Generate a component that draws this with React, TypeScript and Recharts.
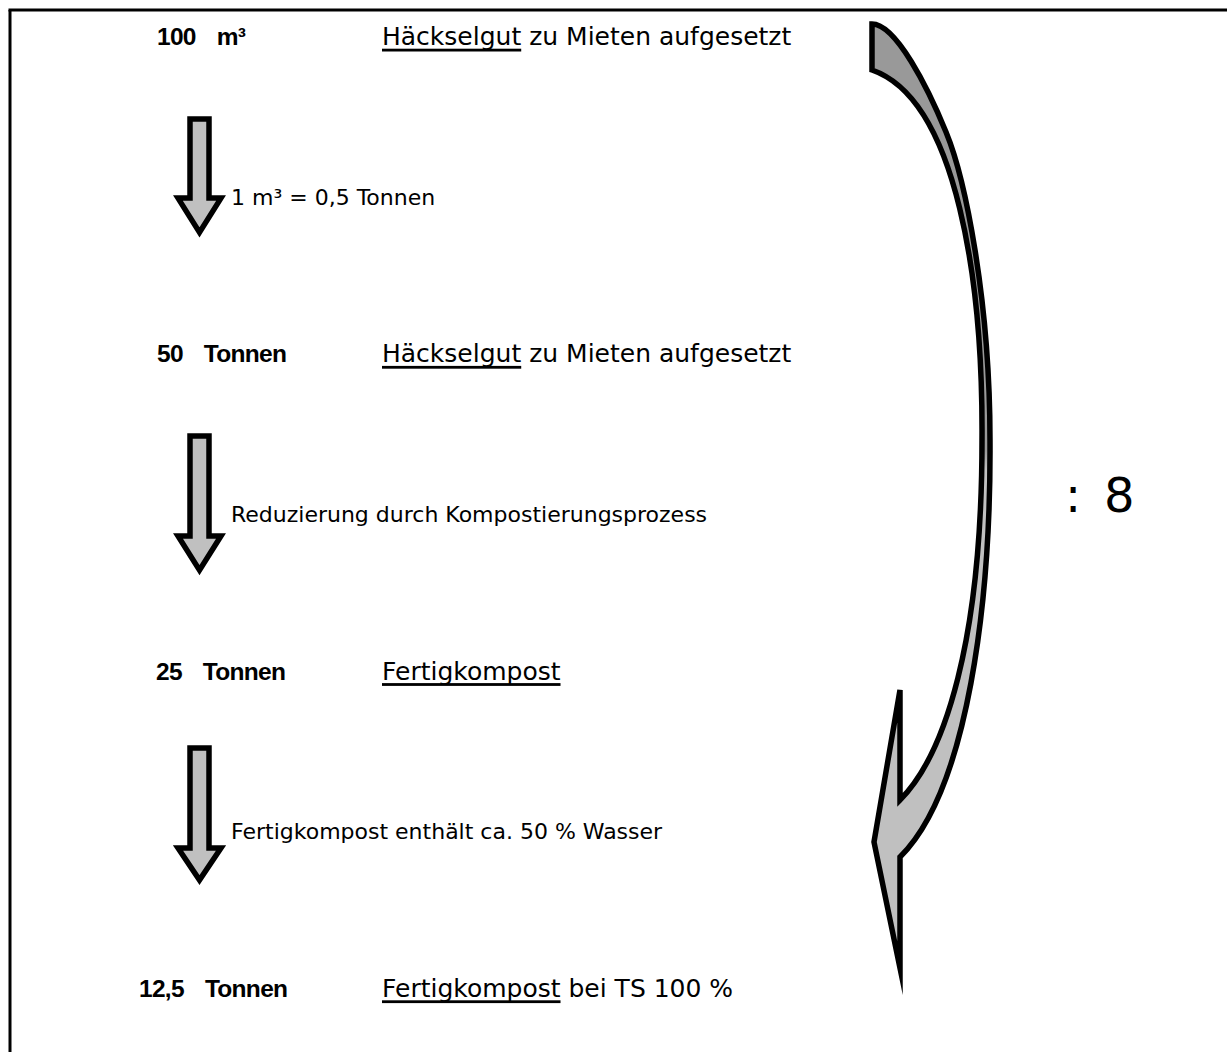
import React, { useLayoutEffect, useRef, useState } from 'react';
import { ScatterChart, Scatter, XAxis, YAxis, ReferenceLine } from 'recharts';

// ---------- data ----------
const quantities = ['100', '50', '25', '12,5'];
const units = ['m³', 'Tonnen', 'Tonnen', 'Tonnen'];
const materials = ['Häckselgut', 'Häckselgut', 'Fertigkompost', 'Fertigkompost'];
const materialNotes = [' zu Mieten aufgesetzt', ' zu Mieten aufgesetzt', '', ' bei TS 100 %'];
const stepNotes = [
  '1 m³ = 0,5 Tonnen',
  'Reduzierung durch Kompostierungsprozess',
  'Fertigkompost enthält ca. 50 % Wasser',
];
const ratioText = '8';

// ---------- layout ----------
const W = 1227;
const H = 1052;
const ROW0_PX = 45.2;
const ROW_PX = 317.2;
const Y_DOMAIN: [number, number] = [-ROW0_PX / ROW_PX, (H - ROW0_PX) / ROW_PX];
const QTY_X = [157, 157, 156, 139];
const DESC_X = 382;
const NOTE_X = 231;
const ARROW_X = 199.5;
const CURVE_X = 872;
const FRAME_X = 10;
const FRAME_ROW = (10 - ROW0_PX) / ROW_PX;
// [shaft top, head base, tip] in row units relative to the step row
const ARROW_SPANS = [
  [0.233, 0.482, 0.59],
  [0.232, 0.547, 0.655],
  [0.216, 0.531, 0.632],
];

const REG: React.CSSProperties = {
  fontFamily: '"DejaVu Sans", Verdana, sans-serif',
  fontSize: 25,
  fill: '#000',
  whiteSpace: 'pre',
};
const NOTE: React.CSSProperties = {
  fontFamily: '"DejaVu Sans", Verdana, sans-serif',
  fontSize: 22,
  fill: '#000',
  whiteSpace: 'pre',
};
const BOLD: React.CSSProperties = {
  fontFamily: '"Liberation Sans", Arial, sans-serif',
  fontWeight: 700,
  fontSize: 24.5,
  letterSpacing: -0.7,
  fill: '#000',
  whiteSpace: 'pre',
};

const rowData = quantities.map((q, i) => ({
  x: QTY_X[i],
  row: i,
  qty: q,
  unit: units[i],
  material: materials[i],
  note: materialNotes[i],
}));
const arrowData = stepNotes.map((n, i) => ({ x: ARROW_X, row: i + 0.5, note: n, idx: i }));
const curveData = [{ x: CURVE_X, row: 0, ratio: ratioText }];

function MaterialText({ x, y, material, note }: any) {
  const ref = useRef<SVGTextElement>(null);
  const [w, setW] = useState(0);
  useLayoutEffect(() => {
    if (ref.current) setW(ref.current.getComputedTextLength());
  }, [material]);
  return (
    <g>
      <text ref={ref} x={x} y={y} style={REG}>
        {material}
      </text>
      <rect x={x} y={y + 3.5} width={w} height={2.8} fill="#000" />
      {note ? (
        <text x={x + w} y={y} style={REG}>
          {note}
        </text>
      ) : null}
    </g>
  );
}

function RowShape(props: any) {
  const { cx, cy, payload } = props;
  return (
    <g>
      <text x={cx} y={cy} style={BOLD}>
        {payload.qty}
        <tspan dx={21}>{payload.unit}</tspan>
      </text>
      <MaterialText x={DESC_X} y={cy} material={payload.material} note={payload.note} />
    </g>
  );
}

function DownArrowShape(props: any) {
  const { cx, cy, payload } = props;
  const [t, hb, tip] = ARROW_SPANS[payload.idx];
  const yT = cy + (t - 0.5) * ROW_PX;
  const yH = cy + (hb - 0.5) * ROW_PX;
  const yP = cy + (tip - 0.5) * ROW_PX;
  const sw = 9.5;
  const hw = 21.5;
  const d = `M${cx - sw},${yT} L${cx + sw},${yT} L${cx + sw},${yH} L${cx + hw},${yH} L${cx},${yP} L${cx - hw},${yH} L${cx - sw},${yH} Z`;
  return (
    <g>
      <path d={d} fill="#c0c0c0" stroke="#000" strokeWidth={5.5} strokeLinejoin="miter" strokeMiterlimit={10} />
      <text x={NOTE_X} y={cy + 1} style={NOTE}>
        {payload.note}
      </text>
    </g>
  );
}

function CurvedArrowShape(props: any) {
  const { cx, cy, payload } = props;
  const p = (x: number, y: number) => `${(cx + x - CURVE_X).toFixed(1)},${(cy + y - ROW0_PX).toFixed(1)}`;
  const d =
    `M${p(872, 24)} C${p(896, 24)} ${p(928, 88)} ${p(946, 132)} ` +
    `C${p(965, 178)} ${p(990, 300)} ${p(990, 440)} ` +
    `C${p(991, 600)} ${p(968, 790)} ${p(900, 857)} ` +
    `L${p(900, 968)} L${p(874, 842)} L${p(900, 690)} L${p(900, 800)} ` +
    `C${p(945, 755)} ${p(982, 640)} ${p(982, 440)} ` +
    `C${p(983, 285)} ${p(958, 100)} ${p(872, 70)} Z`;
  const gy1 = cy + 22 - ROW0_PX;
  const gy2 = cy + 975 - ROW0_PX;
  return (
    <g>
      <defs>
        <linearGradient id="curveFill" gradientUnits="userSpaceOnUse" x1={0} y1={gy1} x2={0} y2={gy2}>
          <stop offset="0" stopColor="#999999" />
          <stop offset="0.45" stopColor="#999999" />
          <stop offset="0.47" stopColor="#c0c0c0" />
          <stop offset="1" stopColor="#c0c0c0" />
        </linearGradient>
      </defs>
      <path d={d} fill="url(#curveFill)" stroke="#000" strokeWidth={5.5} strokeLinejoin="miter" strokeMiterlimit={10} />
      <text x={cx + 193} y={cy + 467} style={{ ...REG, fontSize: 48 }}>
        :<tspan x={cx + 232}>{payload.ratio}</tspan>
      </text>
    </g>
  );
}

export default function App() {
  return (
    <div style={{ position: 'absolute', left: 0, top: 0, width: W, height: H, background: '#fff' }}>
      <ScatterChart width={W} height={H} margin={{ top: 0, right: 0, bottom: 0, left: 0 }}>
        <XAxis type="number" dataKey="x" domain={[0, W]} hide allowDataOverflow />
        <YAxis type="number" dataKey="row" domain={Y_DOMAIN} reversed hide allowDataOverflow />
        <ReferenceLine
          segment={[
            { x: FRAME_X - 1.5, y: FRAME_ROW },
            { x: W, y: FRAME_ROW },
          ]}
          stroke="#000"
          strokeWidth={3}
          ifOverflow="visible"
        />
        <ReferenceLine
          segment={[
            { x: FRAME_X, y: FRAME_ROW },
            { x: FRAME_X, y: Y_DOMAIN[1] },
          ]}
          stroke="#000"
          strokeWidth={3}
          ifOverflow="visible"
        />
        <Scatter data={rowData} shape={RowShape} isAnimationActive={false} />
        <Scatter data={arrowData} shape={DownArrowShape} isAnimationActive={false} />
        <Scatter data={curveData} shape={CurvedArrowShape} isAnimationActive={false} />
      </ScatterChart>
    </div>
  );
}
